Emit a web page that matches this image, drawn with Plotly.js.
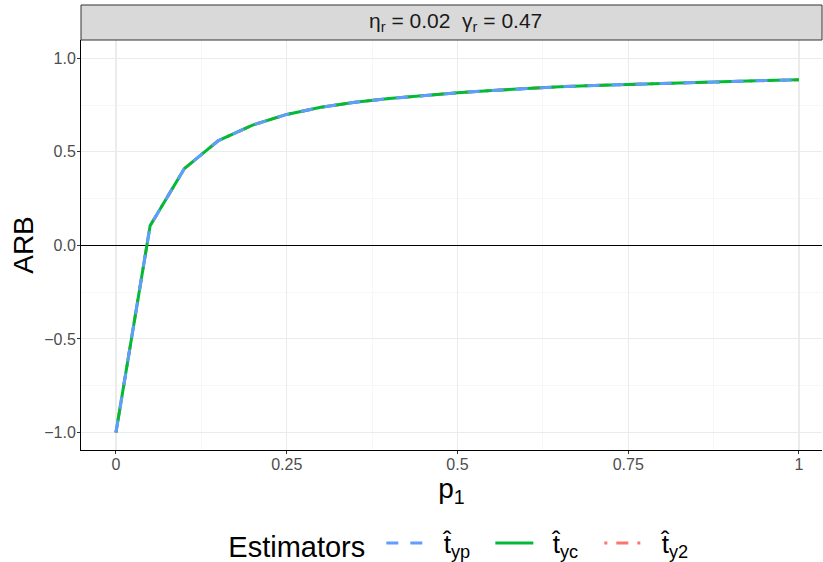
<!DOCTYPE html>
<html>
<head>
<meta charset="utf-8">
<script src="https://cdn.plot.ly/plotly-3.0.1.min.js"></script>
<style>html,body{margin:0;padding:0;background:#fff;}#chart{width:823px;height:562px;}</style>
</head>
<body>
<div id="chart"></div>
<script>
// Data
const p1 = [0, 0.05, 0.10, 0.15, 0.20, 0.25, 0.30, 0.35, 0.40, 0.45, 0.50, 0.55, 0.60, 0.65, 0.70, 0.75, 0.80, 0.85, 0.90, 0.95, 1.00];
const arb_typ = [-1.0, 0.105, 0.41, 0.56, 0.643, 0.70, 0.738, 0.765, 0.785, 0.802, 0.816, 0.828, 0.839, 0.848, 0.855, 0.861, 0.867, 0.872, 0.877, 0.881, 0.885];
const arb_tyc = [-1.0, 0.105, 0.41, 0.56, 0.643, 0.70, 0.738, 0.765, 0.785, 0.802, 0.816, 0.828, 0.839, 0.848, 0.855, 0.861, 0.867, 0.872, 0.877, 0.881, 0.885];
const arb_ty2 = [-1.0, 0.105, 0.41, 0.56, 0.643, 0.70, 0.738, 0.765, 0.785, 0.802, 0.816, 0.828, 0.839, 0.848, 0.855, 0.861, 0.867, 0.872, 0.877, 0.881, 0.885];
const seriesNames = ["\u00a0\u00a0t\u0302<sub>yp</sub>", "\u00a0\u00a0t\u0302<sub>yc</sub>", "\u00a0\u00a0t\u0302<sub>y2</sub>"];
const xTickVals = [0, 0.25, 0.5, 0.75, 1];
const xTickText = ["0", "0.25", "0.5", "0.75", "1"];
const yTickVals = [-1.0, -0.5, 0.0, 0.5, 1.0];
const yTickText = ["\u22121.0", "\u22120.5", "0.0", "0.5", "1.0"];
const stripText = "\u03b7<sub>r</sub> = 0.02  \u03b3<sub>r</sub> = 0.47";

const FONT = "Liberation Sans, Arial, sans-serif";

const tr = (y, name, color, dash, order) => ({
  x: p1, y: y, name: name, type: "scatter", mode: "lines",
  line: {color: color, width: 3, dash: dash}, legendrank: order
});

const data = [
  tr(arb_ty2, seriesNames[2], "#F8766D", "3px,9px,12px,9px", 3),
  tr(arb_tyc, seriesNames[1], "#00BA38", "solid", 2),
  tr(arb_typ, seriesNames[0], "#619CFF", "12px,12px", 1)
];

const layout = {
  width: 823, height: 562,
  margin: {l: 81, r: 1, t: 40, b: 112, autoexpand: false},
  paper_bgcolor: "#fff", plot_bgcolor: "#fff",
  font: {family: FONT, color: "#000"},
  showlegend: true,
  legend: {
    orientation: "h", x: 0.522, xanchor: "center", y: -0.228, yanchor: "middle",
    title: {text: "Estimators\u00a0", side: "left", font: {size: 29, color: "#000"}},
    font: {size: 26, color: "#000"},
    traceorder: "normal", itemwidth: 38, entrywidth: 56
  },
  xaxis: {
    range: [-0.0512, 1.0337], automargin: false,
    tickvals: xTickVals, ticktext: xTickText,
    tickfont: {size: 16, color: "#4D4D4D"},
    ticks: "outside", ticklen: 3, tickcolor: "#333333", tickwidth: 1,
    ticklabelstandoff: -3,
    showgrid: true, gridcolor: "#EBEBEB", gridwidth: 1.1,
    minor: {dtick: 0.125, tick0: 0, showgrid: true, gridcolor: "#F2F2F2", gridwidth: 0.6, ticks: ""},
    zeroline: false,
    showline: true, linecolor: "#000", linewidth: 1,
    title: {text: "p<sub>1</sub>", font: {size: 28, color: "#000"}, standoff: 0}
  },
  yaxis: {
    range: [-1.094, 1.098], automargin: false,
    tickvals: yTickVals, ticktext: yTickText,
    tickfont: {size: 16, color: "#4D4D4D"},
    ticks: "outside", ticklen: 3, tickcolor: "#333333", tickwidth: 1,
    ticklabelstandoff: -2,
    showgrid: true, gridcolor: "#EBEBEB", gridwidth: 1.1,
    minor: {dtick: 0.25, tick0: 0, showgrid: true, gridcolor: "#F2F2F2", gridwidth: 0.6, ticks: ""},
    zeroline: true, zerolinecolor: "#000", zerolinewidth: 1,
    showline: true, linecolor: "#000", linewidth: 1,
    title: {text: "ARB", font: {size: 28, color: "#000"}, standoff: 2}
  },
  shapes: [{
    type: "rect", xref: "paper", yref: "paper",
    x0: 0, x1: 1, y0: 1, y1: 1.0854,
    fillcolor: "#D9D9D9", line: {color: "#333333", width: 1}
  }],
  annotations: [{
    xref: "paper", yref: "paper", x: 0.505, y: 1.0427,
    xanchor: "center", yanchor: "middle", showarrow: false,
    text: stripText, font: {size: 21, color: "#1A1A1A"}
  }]
};

Plotly.newPlot("chart", data, layout, {displayModeBar: false, staticPlot: true});
</script>
</body>
</html>
